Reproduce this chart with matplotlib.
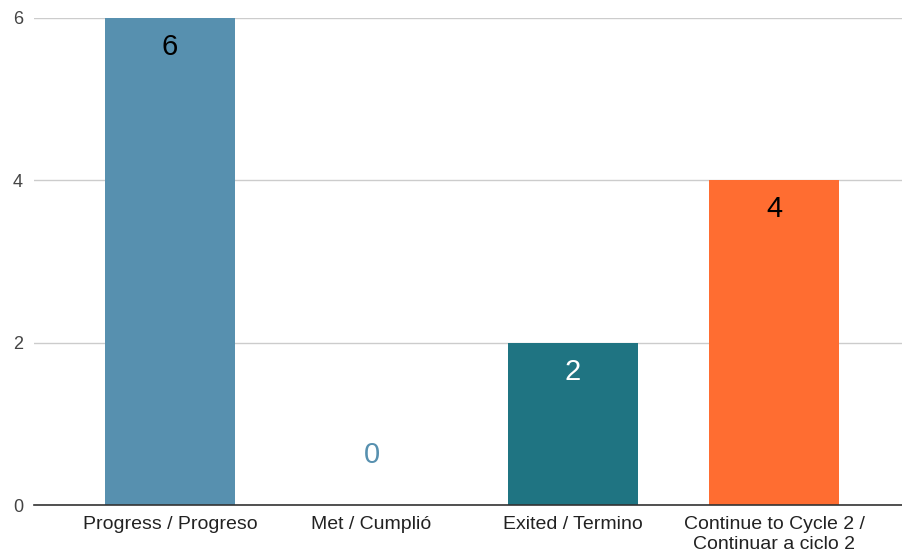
import matplotlib
matplotlib.use("Agg")
import matplotlib.pyplot as plt

categories = ["Progress / Progreso", "Met / Cumplió", "Exited / Termino",
              "Continue to Cycle 2 /\nContinuar a ciclo 2"]
values = [6, 0, 2, 4]
bar_colors = ["#5790AF", "#5790AF", "#1F7482", "#FF6D31"]
label_colors = ["#000000", "#5790AF", "#FFFFFF", "#000000"]
yticks = [0, 2, 4, 6]

plt.rcParams['font.family'] = ['Liberation Sans', 'DejaVu Sans']

fig = plt.figure(figsize=(9.02, 5.52), dpi=100)
ax = fig.add_axes([34/902, 1-505/552, 1-34/902, (505-18)/552])

x = list(range(len(categories)))
ax.bar(x, values, width=0.645, color=bar_colors, zorder=3)

for xi, v, lc in zip(x, values, label_colors):
    off = -29 if v > 0 else 50
    ax.annotate(str(v), xy=(xi, v), xytext=(0, off), textcoords='offset pixels',
                ha='center', va='center', fontsize=21, color=lc, zorder=4)

ax.set_xlim(-0.675, 3.633)
ax.set_ylim(0, 6)
ax.set_yticks(yticks)
ax.set_yticklabels([str(t) for t in yticks])
ax.set_xticks(x)
ax.set_xticklabels(categories)
for t in ax.get_xticklabels():
    t.set_linespacing(1.25)
ax.tick_params(axis='y', length=0, pad=8, labelsize=13, labelcolor='#444444')
ax.tick_params(axis='x', length=0, pad=8, labelsize=14, labelcolor='#222222')
ax.grid(axis='y', color='#cccccc', linewidth=1, zorder=0)
for s in ['top', 'right', 'left']:
    ax.spines[s].set_visible(False)
ax.spines['bottom'].set_color('#333333')
ax.spines['bottom'].set_linewidth(1.2)
ax.spines['bottom'].set_zorder(5)

fig.savefig("out.png", dpi=100)
